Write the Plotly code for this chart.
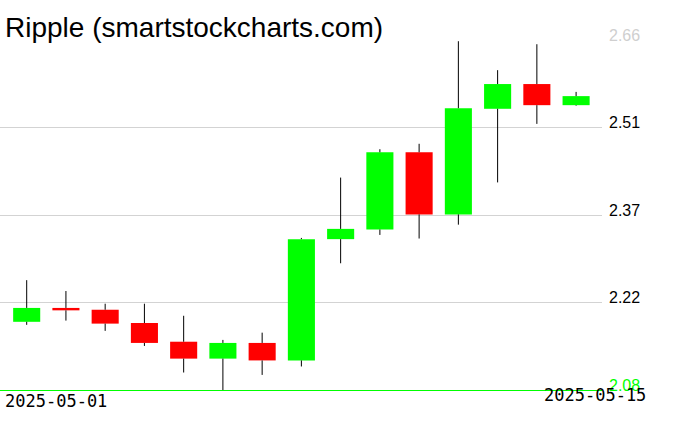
import plotly.graph_objects as go

# ---- data ----
dates = ["2025-05-01", "2025-05-02", "2025-05-03", "2025-05-04", "2025-05-05",
         "2025-05-06", "2025-05-07", "2025-05-08", "2025-05-09", "2025-05-10",
         "2025-05-11", "2025-05-12", "2025-05-13", "2025-05-14", "2025-05-15"]
opens = [2.193, 2.216, 2.213, 2.191, 2.160, 2.132, 2.158, 2.129, 2.330, 2.346,
         2.474, 2.371, 2.546, 2.587, 2.552]
highs = [2.262, 2.244, 2.223, 2.223, 2.203, 2.163, 2.175, 2.332, 2.432, 2.479,
         2.488, 2.658, 2.610, 2.653, 2.574]
lows = [2.188, 2.195, 2.178, 2.153, 2.109, 2.080, 2.105, 2.119, 2.290, 2.337,
        2.331, 2.354, 2.424, 2.521, 2.551]
closes = [2.216, 2.212, 2.190, 2.158, 2.132, 2.158, 2.129, 2.330, 2.347, 2.474,
          2.371, 2.547, 2.587, 2.552, 2.567]
tick_vals = [2.08, 2.225, 2.37, 2.515, 2.66]
tick_text = ["2.08", "2.22", "2.37", "2.51", "2.66"]
tick_colors = ["#00ff00", "#000000", "#000000", "#000000", "#cfcfcf"]
title_text = "Ripple (smartstockcharts.com)"

idx = list(range(len(dates)))
up_color, down_color = "#00ff00", "#ff0000"

# wick segments (outside the body)
wx, wy = [], []
for i, o, h, l, c in zip(idx, opens, highs, lows, closes):
    top, bot = max(o, c), min(o, c)
    wx += [i, i, None, i, i, None]
    wy += [h, top, None, bot, l, None]

fig = go.Figure()
fig.add_trace(go.Scatter(x=wx, y=wy, mode="lines",
                         line=dict(color="black", width=1),
                         hoverinfo="skip", showlegend=False))
fig.add_trace(go.Bar(
    x=idx,
    base=[min(o, c) for o, c in zip(opens, closes)],
    y=[abs(c - o) for o, c in zip(opens, closes)],
    width=0.69,
    marker=dict(color=[up_color if c >= o else down_color for o, c in zip(opens, closes)],
                line=dict(width=0)),
    hoverinfo="skip", showlegend=False))

annotations = []
for v, t, col in zip(tick_vals, tick_text, tick_colors):
    annotations.append(dict(x=1.008, xref="paper", y=v, yref="y", text=t,
                            xanchor="left", yanchor="middle", yshift=5,
                            showarrow=False,
                            font=dict(family="Liberation Sans", size=16, color=col)))
annotations.append(dict(x=0.005, xref="paper", y=-0.031, yref="paper", text=dates[0],
                        xanchor="left", yanchor="middle", showarrow=False,
                        font=dict(family="DejaVu Sans Mono", size=17, color="black")))
annotations.append(dict(x=1.077, xref="paper", y=-0.014, yref="paper", text=dates[-1],
                        xanchor="right", yanchor="middle", showarrow=False,
                        font=dict(family="DejaVu Sans Mono", size=17, color="black")))
annotations.append(dict(x=0.005, xref="paper", y=1.037, yref="paper", text=title_text,
                        xanchor="left", yanchor="middle", showarrow=False,
                        font=dict(family="Liberation Sans", size=28, color="black")))

fig.update_layout(
    width=676, height=431,
    margin=dict(l=0, r=74, t=40, b=41),
    paper_bgcolor="white", plot_bgcolor="white",
    xaxis=dict(range=[-0.68, 14.66], showgrid=False, zeroline=False,
               showticklabels=False, ticks="", showline=True,
               linecolor="#00ff00", linewidth=1),
    yaxis=dict(range=[2.08, 2.66], tickvals=tick_vals, showticklabels=False,
               showgrid=True, gridcolor="#d3d3d3", gridwidth=1,
               zeroline=False, ticks=""),
    annotations=annotations,
    showlegend=False,
)

fig.write_html("out.html", config={"displayModeBar": False},
               post_script="document.body.style.margin='0';")
